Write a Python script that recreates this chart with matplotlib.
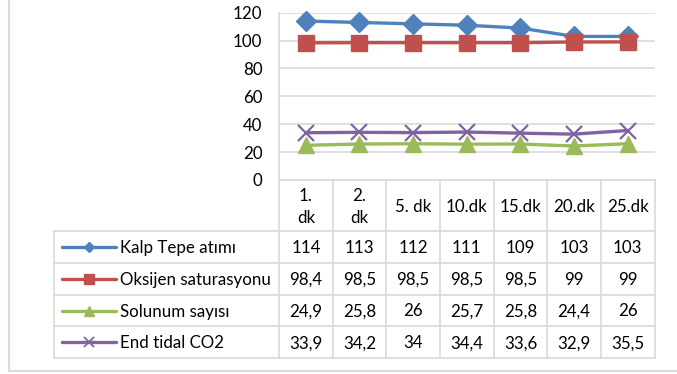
import matplotlib
matplotlib.use('Agg')
import matplotlib.pyplot as plt

# Veriler
zamanlar = ['1.\ndk', '2.\ndk', '5. dk', '10.dk', '15.dk', '20.dk', '25.dk']
kalp = [114, 113, 112, 111, 109, 103, 103]
oksijen = [98.4, 98.5, 98.5, 98.5, 98.5, 99, 99]
solunum = [24.9, 25.8, 26, 25.7, 25.8, 24.4, 26]
etco2 = [33.9, 34.2, 34, 34.4, 33.6, 32.9, 35.5]

seriler = [
    ('Kalp Tepe atımı', kalp, '#4F81BD', 'D'),
    ('Oksijen saturasyonu', oksijen, '#C0504D', 's'),
    ('Solunum sayısı', solunum, '#9BBB59', '^'),
    ('End tidal CO2', etco2, '#8064A2', 'x'),
]

plt.rcParams['font.family'] = ['Lato', 'DejaVu Sans']
W, H = 677, 374
grid_renk = '#d9d9d9'
yazi_renk = '#000000'
fs = 12.2
taban = 6.0  # metin taban çizgisi için satır ortasından kayma (piksel)

fig = plt.figure(figsize=(W / 100, H / 100), dpi=100)

# Tablo ve çerçeve için piksel koordinatlı katman
bg = fig.add_axes([0, 0, 1, 1])
bg.set_xlim(0, W)
bg.set_ylim(H, 0)
bg.axis('off')

# Çizim alanı (piksel cinsinden sınırlar)
px_sol, px_sag, px_ust, px_alt = 279, 654.5, 12.7, 180
ax = fig.add_axes([px_sol / W, 1 - px_alt / H, (px_sag - px_sol) / W, (px_alt - px_ust) / H])
ax.patch.set_alpha(0)

x = list(range(len(zamanlar)))
for ad, degerler, renk, isaret in seriler:
    if isaret == 'x':
        ax.plot(x, degerler, color=renk, lw=2.4, marker='x', ms=11, mew=1.6, clip_on=False, zorder=3)
    else:
        ax.plot(x, degerler, color=renk, lw=2.4, marker=isaret, ms=11 if isaret != 'D' else 10,
                mec=renk, clip_on=False, zorder=3)

ax.set_xlim(-0.5, len(zamanlar) - 0.5)
ax.set_ylim(0, 120)
ax.set_yticks(range(0, 121, 20))
ax.set_xticks([])
ax.grid(axis='y', color=grid_renk, lw=1.2)
ax.set_axisbelow(True)
for s in ['top', 'right']:
    ax.spines[s].set_visible(False)
for s in ['left', 'bottom']:
    ax.spines[s].set_color(grid_renk)
    ax.spines[s].set_linewidth(1.2)
ax.tick_params(axis='y', length=0, pad=12, labelsize=fs, labelcolor=yazi_renk)

# Veri tablosu
kol_w = (px_sag - px_sol) / len(zamanlar)
leg_sol = 54
baslik_alt = 231
satir_h = 31.8
satirlar = [baslik_alt + i * satir_h for i in range(len(seriler) + 1)]
tablo_alt = satirlar[-1]

lk = dict(color=grid_renk, lw=1.2, zorder=1)
# dikey çizgiler
for i in range(len(zamanlar) + 1):
    xx = px_sol + i * kol_w
    bg.plot([xx, xx], [px_alt, tablo_alt], **lk)
bg.plot([leg_sol, leg_sol], [baslik_alt, tablo_alt], **lk)
# yatay çizgiler
for yy in satirlar:
    bg.plot([leg_sol, px_sag], [yy, yy], **lk)

# başlık satırı
for i, etiket in enumerate(zamanlar):
    xc = px_sol + (i + 0.5) * kol_w
    parcalar = etiket.split('\n')
    if len(parcalar) == 2:
        bg.text(xc, 195 + taban, parcalar[0], ha='center', va='baseline', fontsize=fs, color=yazi_renk)
        bg.text(xc, 217 + taban, parcalar[1], ha='center', va='baseline', fontsize=fs, color=yazi_renk)
    else:
        bg.text(xc, (px_alt + baslik_alt) / 2 + taban, etiket, ha='center', va='baseline',
                fontsize=fs, color=yazi_renk)

# değer satırları
for r, (ad, degerler, renk, isaret) in enumerate(seriler):
    yc = satirlar[r] + satir_h / 2
    for i, v in enumerate(degerler):
        xc = px_sol + (i + 0.5) * kol_w
        metin = f'{v:g}'.replace('.', ',')
        bg.text(xc, yc + taban, metin, ha='center', va='baseline', fontsize=fs, color=yazi_renk)
    # lejant anahtarı
    bg.plot([62, 116], [yc, yc], color=renk, lw=2.4, solid_capstyle='round', zorder=3)
    if isaret == 'x':
        bg.plot([89], [yc], marker='x', ms=6.5, mew=1.3, color=renk, zorder=4)
    else:
        bg.plot([89], [yc], marker=isaret, ms=6.5 if isaret != 'D' else 5.5, color=renk, zorder=4)
    bg.text(120, yc + taban, ad, ha='left', va='baseline', fontsize=fs, color=yazi_renk)

# grafik alanı çerçevesi
bg.plot([9, 9], [0, 371], color=grid_renk, lw=1.5)
bg.plot([9, W], [371, 371], color=grid_renk, lw=1.5)

fig.savefig('out.png', dpi=100)
